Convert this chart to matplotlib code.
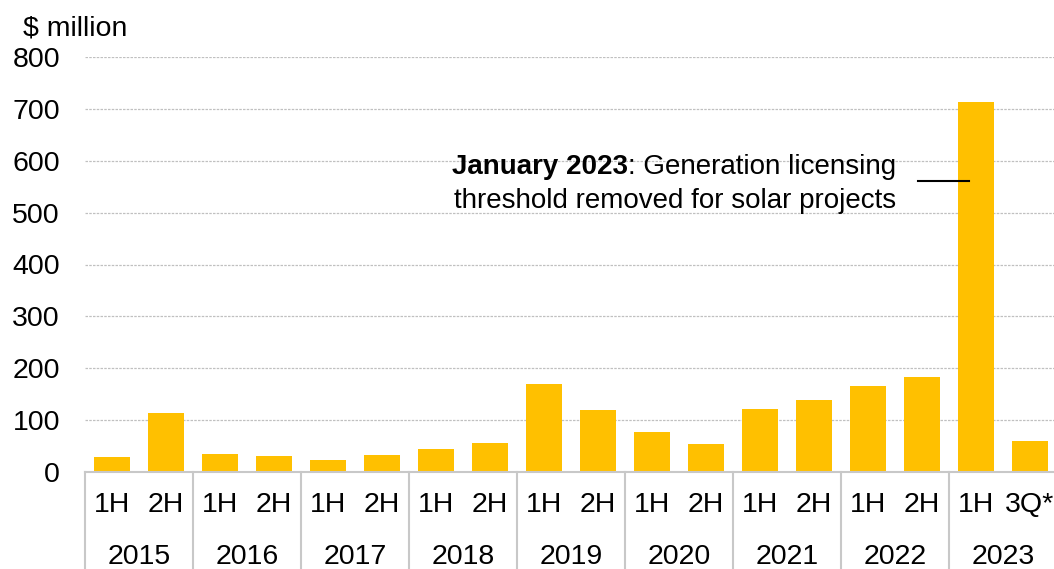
import numpy as np
import matplotlib.pyplot as plt
from matplotlib.transforms import blended_transform_factory

plt.rcParams['font.family'] = ['Liberation Sans', 'DejaVu Sans']

# podaci
halves = ["1H", "2H"] * 8 + ["1H", "3Q*"]
years = ["2015", "2016", "2017", "2018", "2019", "2020", "2021", "2022", "2023"]
values = [28, 114, 35, 30, 24, 33, 44, 55, 169, 119, 77, 54, 122, 138, 165, 184, 714, 59]

BAR = "#FFC000"
GRID = "#C0C0C0"
SEP = "#C8C8C8"
FS = 20.5

fig = plt.figure(figsize=(10.54, 5.69), dpi=100)
ax = fig.add_axes([85 / 1054, 1 - 472 / 569, 972 / 1054, (472 - 57) / 569])

x = np.arange(len(values))
ax.bar(x, values, width=0.67, color=BAR, zorder=2)

ax.set_xlim(-0.5, len(values) - 0.5)
ax.set_ylim(0, 800)
ax.set_yticks(range(0, 801, 100))
ax.tick_params(axis='y', length=0, pad=18, labelsize=FS)
ax.yaxis.grid(True, linestyle=(0, (2, 1)), color=GRID, linewidth=0.9, zorder=0)
ax.set_xticks([])

for s in ["top", "right", "left"]:
    ax.spines[s].set_visible(False)
ax.spines["bottom"].set_color(SEP)
ax.spines["bottom"].set_linewidth(1.5)
ax.spines["bottom"].set_zorder(3)

# dvostruka x osa: polugodista i godine
tr = blended_transform_factory(ax.transData, ax.transAxes)
h_px = 472 - 57
for i, lab in enumerate(halves):
    ax.text(i, -33 / h_px, lab, transform=tr, ha='center', va='center', fontsize=FS)
for j, yr in enumerate(years):
    ax.text(2 * j + 0.5, -85 / h_px, yr, transform=tr, ha='center', va='center', fontsize=FS)
for k in range(len(years) + 1):
    ax.plot([2 * k - 0.5] * 2, [0, -110 / h_px], transform=tr, color=SEP,
            linewidth=1.5, clip_on=False)

# jedinica
fig.text(23 / 1054, 1 - 35 / 569, "$ million", ha='left', va='baseline', fontsize=FS)

# napomena
t1 = ax.text(14.52, 575, ": Generation licensing", ha='right', va='baseline', fontsize=20)
ax.annotate("January 2023", xy=(0, 0), xycoords=t1, ha='right', va='bottom',
            fontsize=20, fontweight='bold')
ax.text(14.52, 508, "threshold removed for solar projects", ha='right', va='baseline', fontsize=20)
ax.plot([14.93, 15.87], [561, 561], color='black', linewidth=1.5, zorder=3)

fig.savefig("out.png", dpi=100)
